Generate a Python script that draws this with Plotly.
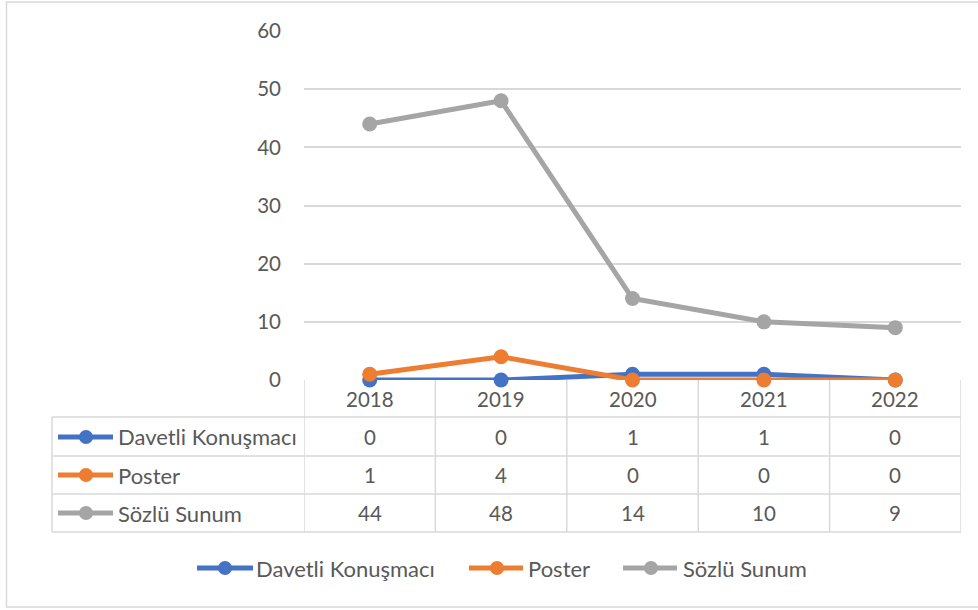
import plotly.graph_objects as go

years = ["2018", "2019", "2020", "2021", "2022"]
series_names = ["Davetli Konuşmacı", "Poster", "Sözlü Sunum"]
davetli = [0, 0, 1, 1, 0]
poster = [1, 4, 0, 0, 0]
sozlu = [44, 48, 14, 10, 9]
values = [davetli, poster, sozlu]
colors = ["#4472C4", "#ED7D31", "#A5A5A5"]

W, H = 978, 610
L, R, T, B = 304, 961, 31, 380  # plot area in pixels
FONT = "Lato"
TXT = "#595959"
GRID = "#D9D9D9"
FS = 20.5
FS_NAME = 22


def fx(px):
    return (px - L) / (R - L)


def fy(py):
    return (B - py) / (B - T)


def label(x, y, text, xref="paper", xanchor="center", size=FS):
    return dict(x=x, y=y, xref=xref, yref="paper", text=text, showarrow=False,
                xanchor=xanchor, yanchor="middle",
                font=dict(family=FONT, size=size, color=TXT))


xs = list(range(len(years)))
fig = go.Figure()
for name, vals, c in zip(series_names, values, colors):
    fig.add_trace(go.Scatter(
        x=xs, y=vals, name=name, mode="lines+markers",
        line=dict(color=c, width=5),
        marker=dict(color=c, size=15),
        cliponaxis=False, showlegend=False,
    ))

shapes = []
annotations = []

# outer border
shapes.append(dict(type="rect", xref="paper", yref="paper",
                   x0=fx(6.5), x1=fx(990), y0=fy(607), y1=fy(2),
                   line=dict(color=GRID, width=1.5), layer="below"))

# table grid
for py in [417, 456, 494, 532]:
    shapes.append(dict(type="line", xref="paper", yref="paper",
                       x0=fx(52), x1=1, y0=fy(py), y1=fy(py),
                       line=dict(color=GRID, width=1.5)))
shapes.append(dict(type="line", xref="paper", yref="paper",
                   x0=fx(52), x1=fx(52), y0=fy(417), y1=fy(532),
                   line=dict(color=GRID, width=1.5)))
for i in range(len(years) + 1):
    shapes.append(dict(type="line", xref="x", yref="paper",
                       x0=i - 0.5, x1=i - 0.5, y0=fy(380), y1=fy(532),
                       line=dict(color=GRID, width=1.5)))

# header years
for i, yr in enumerate(years):
    annotations.append(label(i, fy(399), yr, xref="x"))

row_centers = [437, 475, 513]
for r, (name, vals, c) in enumerate(zip(series_names, values, colors)):
    cy = row_centers[r]
    shapes.append(dict(type="line", xref="paper", yref="paper",
                       x0=fx(58), x1=fx(113), y0=fy(cy), y1=fy(cy),
                       line=dict(color=c, width=5)))
    shapes.append(dict(type="circle", xref="paper", yref="paper",
                       x0=fx(86 - 7), x1=fx(86 + 7),
                       y0=fy(cy + 7), y1=fy(cy - 7),
                       fillcolor=c, line=dict(color=c, width=0)))
    annotations.append(label(fx(116), fy(cy), name, xanchor="left", size=FS_NAME))
    for i, v in enumerate(vals):
        annotations.append(label(i, fy(cy), str(v), xref="x"))

# bottom legend
leg_y = 568
leg_items = [(197, 253, 225, 254), (469, 523, 497, 526), (623, 677, 651, 681)]
for (x0, x1, cx, tx), name, c in zip(leg_items, series_names, colors):
    shapes.append(dict(type="line", xref="paper", yref="paper",
                       x0=fx(x0), x1=fx(x1), y0=fy(leg_y), y1=fy(leg_y),
                       line=dict(color=c, width=5)))
    shapes.append(dict(type="circle", xref="paper", yref="paper",
                       x0=fx(cx - 7), x1=fx(cx + 7),
                       y0=fy(leg_y + 7), y1=fy(leg_y - 7),
                       fillcolor=c, line=dict(color=c, width=0)))
    annotations.append(label(fx(tx), fy(leg_y), name, xanchor="left", size=FS_NAME))

fig.update_layout(
    width=W, height=H,
    margin=dict(l=L, r=W - R, t=T, b=H - B, pad=0),
    paper_bgcolor="white", plot_bgcolor="white",
    xaxis=dict(range=[-0.5, 4.5], showticklabels=False, showgrid=False,
               zeroline=False, showline=False, fixedrange=True),
    yaxis=dict(range=[0, 60], dtick=10, showgrid=True, gridcolor=GRID,
               gridwidth=1.5, zeroline=False, showline=False,
               ticklabelstandoff=22,
               tickfont=dict(family=FONT, size=FS, color=TXT)),
    shapes=shapes, annotations=annotations,
    font=dict(family=FONT, size=FS, color=TXT),
)

fig.write_html("out.html",
               config={"displayModeBar": False},
               post_script="document.body.style.margin='0';"
                           "document.body.style.padding='0';")
